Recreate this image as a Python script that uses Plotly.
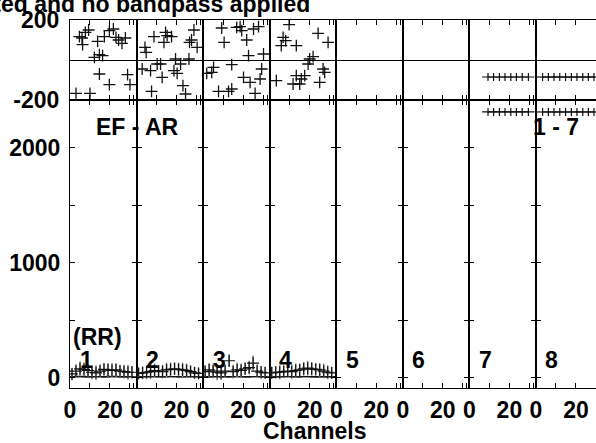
import plotly.graph_objects as go

# ---- data (channel, value) ----
panel_names = ["1", "2", "3", "4", "5", "6", "7", "8"]

# phase (degrees), panels 1-4
ph1_ch = [3.0, 4.7, 6.0, 6.3, 7.7, 9.3, 10.0, 12.2, 13.8, 14.7, 14.7, 16.3, 17.2, 19.7, 19.7, 21.7, 23.0, 24.3, 26.0, 27.7, 28.8, 30.0]
ph1_deg = [-167, 117, 110, 77, 138, 150, -167, 13, 93, 27, -70, 22, 117, 147, -123, 155, 113, 100, 83, 110, -73, -123]

ph2_ch = [2.8, 4.2, 4.8, 7.0, 7.5, 8.7, 10.3, 12.0, 12.8, 13.7, 14.5, 15.3, 17.5, 18.7, 19.5, 20.3, 22.0, 23.2, 24.5, 26.2, 26.5, 27.5, 28.7, 30.3]
ph2_deg = [-45, 63, 38, -53, -157, 117, -20, -20, -87, 88, 138, 122, 117, -53, 5, -67, -20, -128, -170, 5, 88, 100, 150, 63]

ph3_ch = [1.8, 4.3, 5.2, 7.7, 9.3, 10.5, 12.7, 14.3, 14.3, 16.8, 18.5, 19.3, 20.2, 21.8, 22.7, 23.5, 25.2, 26.0, 27.7, 28.5, 29.3, 30.2]
ph3_deg = [-67, -62, -37, -157, 160, 88, -157, -23, -145, 163, 167, 147, -87, 100, 22, -112, 155, -167, 167, -95, -45, 30]

ph4_ch = [3.3, 5.8, 6.7, 8.0, 9.7, 11.7, 13.3, 13.3, 15.0, 15.8, 17.5, 19.2, 20.0, 21.7, 24.2, 25.0, 26.7, 27.5, 29.2]
ph4_deg = [-103, 72, 113, 97, 177, -120, 72, -78, -120, -95, -78, -20, 5, 17, 133, -112, -45, -62, 88]

# amplitude, panels 1-4 (main series with error, and the low series)
amp_ch = [1, 3, 5, 7, 9, 11, 13, 15, 17, 19, 21, 23, 25, 27, 29, 31]
amp1 = [35, 60, 80, 75, 65, 50, 45, 60, 75, 70, 65, 70, 60, 55, 50, 50]
amp2 = [40, 45, 50, 55, 65, 60, 55, 70, 75, 80, 75, 70, 65, 55, 45, 40]
amp3 = [55, 70, 60, 50, 45, 60, 150, 55, 70, 65, 80, 90, 130, 60, 50, 45]
amp4 = [45, 50, 50, 55, 60, 55, 65, 70, 80, 85, 80, 75, 70, 60, 50, 45]
amp_err1 = [55, 60, 65, 60, 55, 60, 65, 60, 55, 60, 65, 60, 55, 60, 65, 55]
amp_err2 = [50, 55, 60, 65, 60, 55, 60, 65, 60, 55, 60, 65, 60, 55, 50, 50]
amp_err3 = [55, 60, 65, 70, 65, 60, 55, 60, 65, 60, 55, 60, 65, 60, 55, 50]
amp_err4 = [50, 55, 60, 55, 60, 65, 60, 55, 60, 65, 60, 55, 60, 65, 60, 50]
low1 = [10, 12, 14, 12, 10, 11, 13, 12, 10, 12, 14, 12, 11, 10, 12, 11]
low2 = [11, 12, 10, 13, 12, 11, 10, 12, 13, 12, 11, 10, 12, 13, 11, 10]
low3 = [12, 10, 11, 13, 12, 10, 11, 12, 13, 11, 10, 12, 11, 13, 12, 10]
low4 = [10, 11, 12, 11, 13, 12, 10, 11, 12, 13, 11, 10, 12, 11, 10, 12]

# panels 7-8: flat phase and amplitude
p7_ch = [9.3, 12.1, 15.0, 17.8, 20.7, 23.5, 26.4, 29.5]
p7_deg = [-85, -85, -85, -85, -85, -85, -85, -85]
p7_amp = [2313, 2313, 2313, 2313, 2313, 2313, 2313, 2313]
p8_ch = [3.3, 6.2, 9.0, 11.9, 14.8, 17.7, 20.5, 23.4, 26.2, 29.0]
p8_deg = [-85, -85, -85, -85, -85, -85, -85, -85, -85, -85]
p8_amp = [2313, 2313, 2313, 2313, 2313, 2313, 2313, 2313, 2313, 2313]

FONT = "Liberation Sans, Arial, sans-serif"
FSIZE = 23
fig = go.Figure()

phase_sets = [(ph1_ch, ph1_deg), (ph2_ch, ph2_deg), (ph3_ch, ph3_deg), (ph4_ch, ph4_deg)]
amp_sets = [(amp1, amp_err1, low1), (amp2, amp_err2, low2), (amp3, amp_err3, low3), (amp4, amp_err4, low4)]

for i in range(4):
    ax_amp = i + 1
    ax_ph = i + 9
    ch, deg = phase_sets[i]
    fig.add_trace(go.Scatter(
        x=ch, y=deg, mode="markers",
        marker=dict(symbol="cross-thin", size=8.5, line=dict(color="#111", width=1.3)),
        xaxis=f"x{ax_ph}", yaxis=f"y{ax_ph}", showlegend=False))
    amp, err, low = amp_sets[i]
    fig.add_trace(go.Scatter(
        x=amp_ch, y=low, mode="markers",
        marker=dict(size=1, color="#111"),
        error_x=dict(type="constant", value=3, width=0, thickness=1.2, color="#111"),
        xaxis=f"x{ax_amp}", yaxis=f"y{ax_amp}", showlegend=False))
    fig.add_trace(go.Scatter(
        x=amp_ch, y=amp, mode="markers",
        marker=dict(symbol="cross-thin", size=8.5, line=dict(color="#111", width=1.2)),
        error_y=dict(type="data", array=err, width=0, thickness=1.5, color="#888"),
        xaxis=f"x{ax_amp}", yaxis=f"y{ax_amp}", showlegend=False))

# empty panels 5 and 6 still need their frames drawn
for i in (4, 5):
    for k in (i + 1, i + 9):
        fig.add_trace(go.Scatter(x=[None], y=[None], mode="markers",
                                 xaxis=f"x{k}", yaxis=f"y{k}", showlegend=False))

for i, ch, deg, amp in [(6, p7_ch, p7_deg, p7_amp), (7, p8_ch, p8_deg, p8_amp)]:
    fig.add_trace(go.Scatter(
        x=ch, y=deg, mode="markers",
        marker=dict(size=1, color="#111"),
        error_x=dict(type="constant", value=3, width=0, thickness=1.2, color="#111"),
        error_y=dict(type="constant", value=20, width=0, thickness=1.2, color="#111"),
        xaxis=f"x{i + 9}", yaxis=f"y{i + 9}", showlegend=False))
    fig.add_trace(go.Scatter(
        x=ch, y=amp, mode="markers",
        marker=dict(size=1, color="#111"),
        error_x=dict(type="constant", value=3, width=0, thickness=1.2, color="#111"),
        error_y=dict(type="constant", value=35, width=0, thickness=1.2, color="#111"),
        xaxis=f"x{i + 1}", yaxis=f"y{i + 1}", showlegend=False))

# ---- axes ----
plot_w = 526.0
pw = 66.57
split = 0.7826
tickfont = dict(family=FONT, size=FSIZE, color="black", weight="bold")
layout_axes = {}
for i in range(8):
    x0 = i * pw / plot_w
    x1 = min((i + 1) * pw / plot_w, 1.0)
    hi = 33.3 if i < 7 else 33.3 * (plot_w - 7 * pw) / pw
    xt = [0, 10, 20, 30, 32] if i < 7 else [0, 10, 20]
    xl = ["0", "", "20", "", ""] if i < 7 else ["0", "", "20"]
    common = dict(showgrid=False, zeroline=False, showline=True, linecolor="black",
                  linewidth=1, ticks="inside", ticklen=5, tickcolor="black", tickfont=tickfont,
                  automargin=False)
    k = i + 1
    layout_axes[f"xaxis{k}"] = dict(common, domain=[x0, x1], anchor=f"y{k}", range=[0, hi],
                                    tickvals=xt, ticktext=xl, mirror="ticks", ticklabelstandoff=1)
    layout_axes[f"yaxis{k}"] = dict(common, domain=[0, split], anchor=f"x{k}", range=[-87, 2417],
                                    tickvals=[0, 500, 1000, 1500, 2000],
                                    ticktext=["0", "", "1000", "", "2000"],
                                    showticklabels=(i == 0), mirror=("ticks" if i < 7 else False),
                                    ticklabelstandoff=4)
    k = i + 9
    layout_axes[f"xaxis{k}"] = dict(common, domain=[x0, x1], anchor=f"y{k}", range=[0, hi],
                                    tickvals=xt, showticklabels=False, mirror="ticks")
    ph = dict(common, domain=[split, 1], anchor=f"x{k}", range=[-200, 200],
              tickvals=[-200, 200], ticktext=["-200", "200"], ticks="",
              showticklabels=(i == 0), mirror=(True if i < 7 else False),
              ticklabelstandoff=5)
    ph["zeroline"] = True
    ph["zerolinecolor"] = "black"
    ph["zerolinewidth"] = 1
    layout_axes[f"yaxis{k}"] = ph

fig.update_layout(**layout_axes)

# ---- labels ----
def px_x(px):
    return (px - 70) / plot_w

def px_y(py):
    return 1 + (20 - py) / 368.0

lab = dict(family=FONT, size=FSIZE, color="black", weight="bold")
notes = [
    ("Cross-power spectra calibrated and no bandpass applied", 312, 4, "right"),
    ("EF - AR", 137, 127, "center"),
    ("1 - 7", 556, 127, "center"),
    ("(RR)", 97, 337, "center"),
    ("Channels", 315, 431, "center"),
]
for txt, x, y, xa in notes:
    fig.add_annotation(text=txt, x=px_x(x), y=px_y(y), xref="paper", yref="paper",
                       xanchor=xa, yanchor="middle", showarrow=False, font=lab)
for i, name in enumerate(panel_names):
    fig.add_annotation(text=name, x=px_x(70 + i * pw + 16), y=px_y(360), xref="paper", yref="paper",
                       xanchor="center", yanchor="middle", showarrow=False, font=lab)

fig.update_layout(
    width=596, height=443,
    margin=dict(l=70, r=0, t=20, b=55),
    paper_bgcolor="white", plot_bgcolor="white",
    font=dict(family=FONT, color="black"),
)

# page body has a default 8px margin; drop it so the figure sits at the window origin
fig.write_html("out.html", config={"displayModeBar": False},
               post_script="document.body.style.margin='0px';")
